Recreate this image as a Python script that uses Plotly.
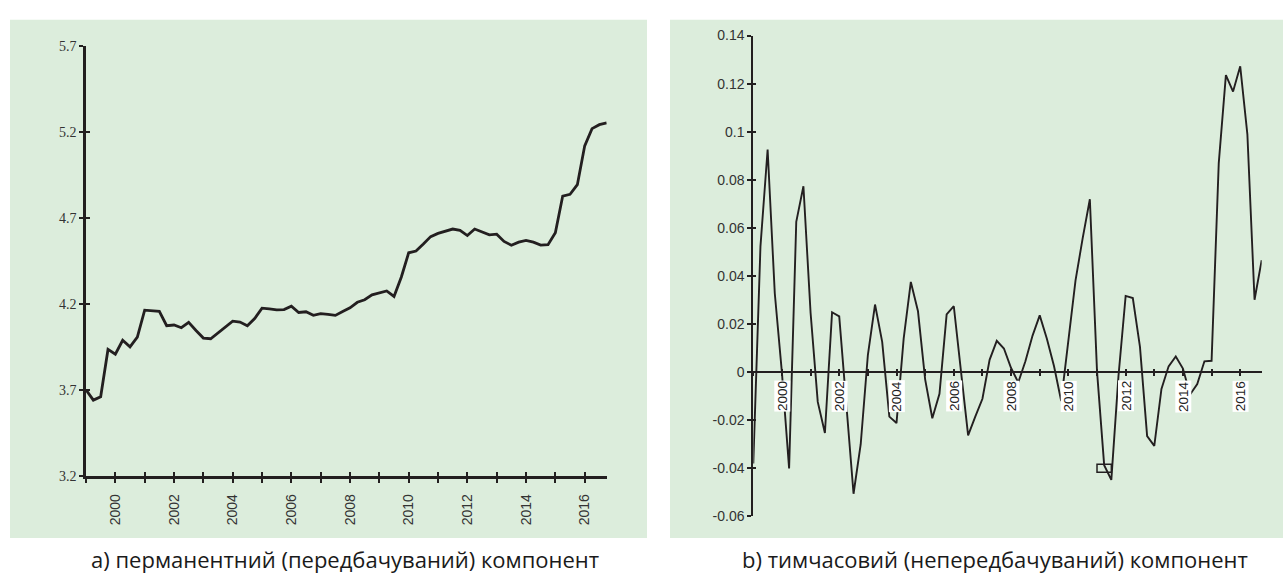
import plotly.graph_objects as go

# Quarterly time index, 1999Q1 .. 2016Q4
start_year = 1999
n_quarters = 72
periods = [start_year + i / 4 for i in range(n_quarters)]

# a) permanent (predictable) component
permanent = [
    3.70, 3.64, 3.66, 3.935, 3.907, 3.988, 3.95, 4.007,
    4.163, 4.16, 4.156, 4.073, 4.077, 4.061, 4.092, 4.045,
    4.001, 3.997, 4.03, 4.064, 4.099, 4.094, 4.073, 4.115,
    4.175, 4.171, 4.165, 4.167, 4.186, 4.15, 4.154, 4.133,
    4.143, 4.139, 4.133, 4.156, 4.177, 4.209, 4.224, 4.252,
    4.262, 4.275, 4.243, 4.356, 4.497, 4.507, 4.548, 4.591,
    4.61, 4.624, 4.635, 4.627, 4.597, 4.635, 4.62, 4.601,
    4.605, 4.563, 4.541, 4.559, 4.569, 4.559, 4.542, 4.544,
    4.614, 4.827, 4.837, 4.893, 5.119, 5.219, 5.242, 5.253,
]

# b) transitory (unpredictable) component
transitory = [
    -0.038, 0.0523, 0.0926, 0.0328, -0.0003, -0.0401, 0.0625, 0.0773,
    0.0247, -0.0124, -0.0253, 0.0249, 0.0232, -0.012, -0.0506, -0.030,
    0.0071, 0.0281, 0.0126, -0.0185, -0.0212, 0.0139, 0.0375, 0.0253,
    -0.003, -0.0192, -0.009, 0.024, 0.0274, 0.0004, -0.0263, -0.0185,
    -0.0111, 0.0051, 0.0130, 0.0098, 0.0017, -0.0043, 0.0045, 0.0152,
    0.0236, 0.0139, 0.0024, -0.012, 0.0144, 0.0382, 0.0557, 0.0719,
    0.0004, -0.0387, -0.0448, -0.0015, 0.0317, 0.0308, 0.0105, -0.0266,
    -0.0307, -0.007, 0.0024, 0.0065, 0.0015, -0.0093, -0.005, 0.0045,
    0.0047, 0.0868, 0.1235, 0.1167, 0.1272, 0.0989, 0.0301, 0.0466,
]

years = list(range(1999, 2017))
label_years = list(range(2000, 2017, 2))
left_yticks = [3.2, 3.7, 4.2, 4.7, 5.2, 5.7]
right_yticks = [-0.06, -0.04, -0.02, 0, 0.02, 0.04, 0.06, 0.08, 0.1, 0.12, 0.14]
right_yticktext = ["-0.06", "-0.04", "-0.02", "0", "0.02", "0.04", "0.06",
                   "0.08", "0.1", "0.12", "0.14"]
captions = ["а) перманентний (передбачуваний) компонент",
            "b) тимчасовий (непередбачуваний) компонент"]

W, H = 1283, 583
INK = "#231F20"
PANEL = "#DCEDDC"
SANS = "Liberation Sans, Arial, sans-serif"
SERIF = "Liberation Serif, Times New Roman, serif"
CAPTION_FONT = "Open Sans, Noto Sans, sans-serif"
X_RANGE = [1999, 2016.75]


def fx(p):
    return p / W


def fy(p):
    return 1 - p / H


fig = go.Figure()

# data lines
fig.add_trace(go.Scatter(x=periods, y=permanent, mode="lines",
                         line=dict(color=INK, width=2.8),
                         xaxis="x", yaxis="y", hoverinfo="skip"))
fig.add_trace(go.Scatter(x=periods, y=transitory, mode="lines",
                         line=dict(color=INK, width=1.9),
                         xaxis="x2", yaxis="y2", hoverinfo="skip"))
# carriers for the overlay axes that draw the inner half of each tick
fig.add_trace(go.Scatter(x=periods, y=permanent, mode="lines", opacity=0,
                         xaxis="x3", yaxis="y3", hoverinfo="skip"))
fig.add_trace(go.Scatter(x=periods, y=transitory, mode="lines", opacity=0,
                         xaxis="x4", yaxis="y4", hoverinfo="skip"))

x_ticktext = [str(y) if y in label_years else "" for y in years]

left_x_dom = [fx(86), fx(606.7)]
left_y_dom = [fy(481), fy(39)]
right_x_dom = [fx(753.3), fx(1261.7)]
right_y_dom = [fy(522.7), fy(28.3)]
zero_pos = fy(374.3)

common_tick = dict(tickcolor=INK, tickwidth=2, showgrid=False, zeroline=False)

fig.update_layout(
    width=W, height=H,
    margin=dict(l=0, r=0, t=0, b=0),
    paper_bgcolor="white",
    plot_bgcolor="rgba(0,0,0,0)",
    showlegend=False,
    xaxis=dict(domain=left_x_dom, range=X_RANGE, anchor="y",
               showline=True, linecolor=INK, linewidth=2.5,
               ticks="outside", ticklen=4, tickvals=years, ticktext=x_ticktext,
               tickangle=-90, ticklabelstandoff=6,
               tickfont=dict(family=SANS, size=14, color="#333"),
               **common_tick),
    yaxis=dict(domain=left_y_dom, range=[3.2, 5.7], anchor="x",
               showline=True, linecolor=INK, linewidth=2.5,
               ticks="outside", ticklen=4, tickvals=left_yticks,
               ticktext=[f"{v:.1f}" for v in left_yticks],
               tickfont=dict(family=SERIF, size=14, color="#333"),
               **common_tick),
    xaxis3=dict(overlaying="x", range=X_RANGE, anchor="y3", showline=False,
                ticks="inside", ticklen=4, tickvals=years, showticklabels=False,
                **common_tick),
    yaxis3=dict(overlaying="y", range=[3.2, 5.7], anchor="x3", showline=False,
                ticks="inside", ticklen=4, tickvals=left_yticks,
                showticklabels=False, **common_tick),
    xaxis2=dict(domain=right_x_dom, range=X_RANGE, anchor="free",
                position=zero_pos, showline=True, linecolor=INK, linewidth=2,
                ticks="outside", ticklen=3, tickvals=years,
                showticklabels=False, **common_tick),
    yaxis2=dict(domain=right_y_dom, range=[-0.06, 0.14], anchor="x2",
                showline=True, linecolor=INK, linewidth=2,
                ticks="outside", ticklen=4, tickvals=right_yticks,
                ticktext=right_yticktext,
                tickfont=dict(family=SANS, size=14, color="#333"),
                **common_tick),
    xaxis4=dict(overlaying="x2", range=X_RANGE, anchor="free",
                position=zero_pos, showline=False,
                ticks="inside", ticklen=3, tickvals=years,
                showticklabels=False, **common_tick),
    yaxis4=dict(overlaying="y2", range=[-0.06, 0.14], anchor="x4",
                showline=False, ticks="inside", ticklen=3,
                tickvals=right_yticks, showticklabels=False, **common_tick),
)

# panel backgrounds
fig.add_shape(type="rect", xref="paper", yref="paper",
              x0=fx(10), x1=fx(647), y0=fy(545), y1=fy(12),
              fillcolor=PANEL, line=dict(width=0), layer="below")
fig.add_shape(type="rect", xref="paper", yref="paper",
              x0=fx(670), x1=fx(1283), y0=fy(545), y1=fy(12),
              fillcolor=PANEL, line=dict(width=0), layer="below")

# small marker box near the 2011 trough
fig.add_shape(type="rect", xref="x2", yref="y2",
              x0=2011.0, x1=2011.5, y0=-0.0417, y1=-0.0383,
              line=dict(color=INK, width=1.5), fillcolor="rgba(0,0,0,0)")

# year labels sitting on the zero line, with white boxes
for yr in label_years:
    fig.add_annotation(x=yr, y=-0.01, xref="x2", yref="y2",
                       text=str(yr), showarrow=False, textangle=-90,
                       xanchor="center", yanchor="middle",
                       bgcolor="white", borderpad=0,
                       font=dict(family=SANS, size=13.5, color="#222"))

# captions
fig.add_annotation(x=fx(345), y=fy(567), xref="paper", yref="paper",
                   text=captions[0], showarrow=False,
                   xanchor="center", yanchor="middle",
                   font=dict(family=CAPTION_FONT, size=22, color="#1a1a1a"))
fig.add_annotation(x=fx(995), y=fy(567), xref="paper", yref="paper",
                   text=captions[1], showarrow=False,
                   xanchor="center", yanchor="middle",
                   font=dict(family=CAPTION_FONT, size=22, color="#1a1a1a"))

fig.write_html("out.html")
